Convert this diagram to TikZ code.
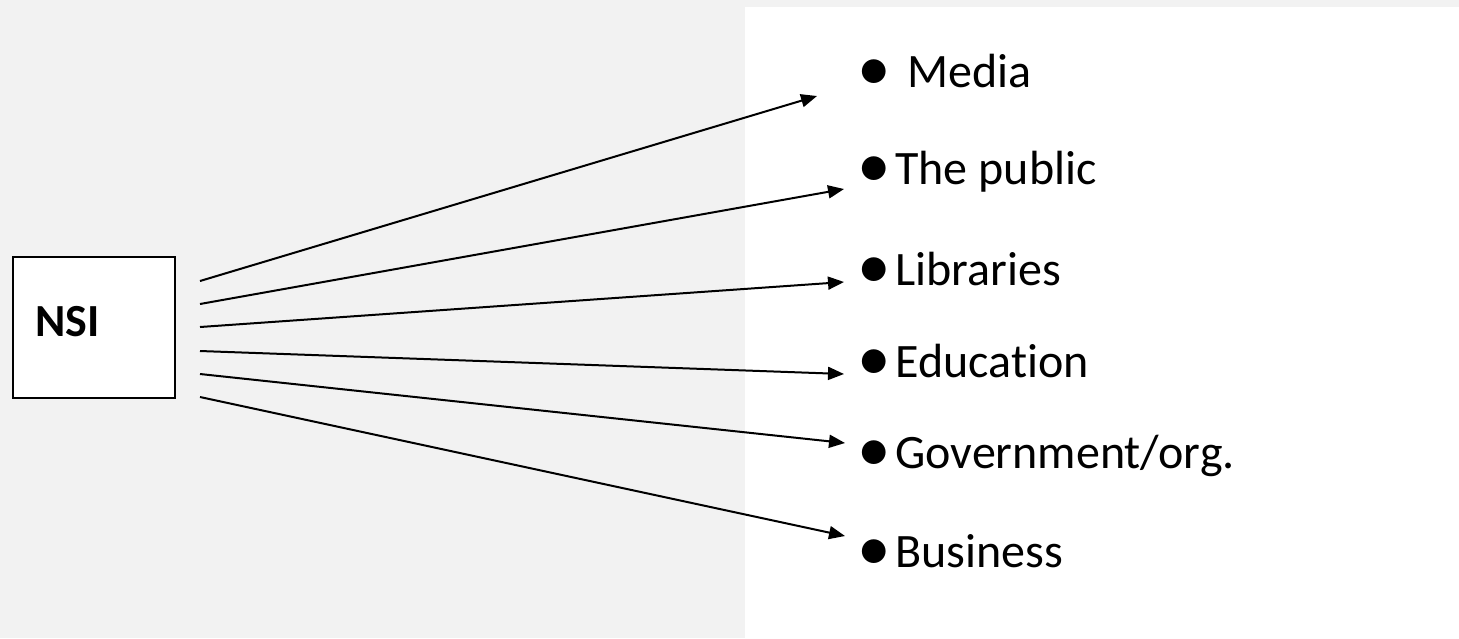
\documentclass[tikz,border=0pt]{standalone}
\usepackage{fontspec}
\setmainfont{Carlito}[Ligatures=NoCommon]
\usetikzlibrary{arrows.meta}

% larger list bullet
\newcommand{\dotmark}{\hspace{-3pt}\raisebox{-1.8pt}{\scalebox{1.4}{•}}}

\begin{document}
\begin{tikzpicture}[x=0.5pt, y=-0.5pt]
    \definecolor{mypanel}{RGB}{242,242,242}
    \tikzset{
        item/.style={anchor=base west, inner sep=0pt, font=\fontsize{24}{28}\selectfont},
        link/.style={-{Triangle[length=8pt,width=6.5pt]}, line width=1pt},
    }

    % backdrop: grey sheet, white panel on the right
    \fill[mypanel] (0,0) rectangle (1459,638);
    \fill[white] (745,7) rectangle (1459,638);

    % source box
    \node[draw, fill=white, line width=0.8pt, minimum width=81pt, minimum height=70.5pt, inner sep=0pt] (nsi) at (94,327.5) {};
    \node[item, font=\fontsize{23}{28}\selectfont\bfseries] (nsilabel) at (35,336) {NSI};

    % audiences
    \node[item] (media) at (863,87) {\makebox[22pt][l]{\dotmark}Media};
    \node[item] (public) at (863,184) {\makebox[16pt][l]{\dotmark}The public};
    \node[item] (libraries) at (863,285) {\makebox[16pt][l]{\dotmark}Libraries};
    \node[item] (education) at (863,377) {\makebox[16pt][l]{\dotmark}Education};
    \node[item] (government) at (863,468) {\makebox[16pt][l]{\dotmark}Government/org.};
    \node[item] (business) at (863,567) {\makebox[16pt][l]{\dotmark}Business};

    % arrow ends
    \coordinate (s1) at (200,281);
    \coordinate (s2) at (200,304);
    \coordinate (s3) at (200,327);
    \coordinate (s4) at (200,351);
    \coordinate (s5) at (200,374);
    \coordinate (s6) at (200,397);
    \coordinate (t1) at (817,96);
    \coordinate (t2) at (844,189);
    \coordinate (t3) at (844,282);
    \coordinate (t4) at (844,374);
    \coordinate (t5) at (845,443);
    \coordinate (t6) at (845,536);

    \draw[link] (s1) -- (t1);
    \draw[link] (s2) -- (t2);
    \draw[link] (s3) -- (t3);
    \draw[link] (s4) -- (t4);
    \draw[link] (s5) -- (t5);
    \draw[link] (s6) -- (t6);
\end{tikzpicture}
\end{document}
